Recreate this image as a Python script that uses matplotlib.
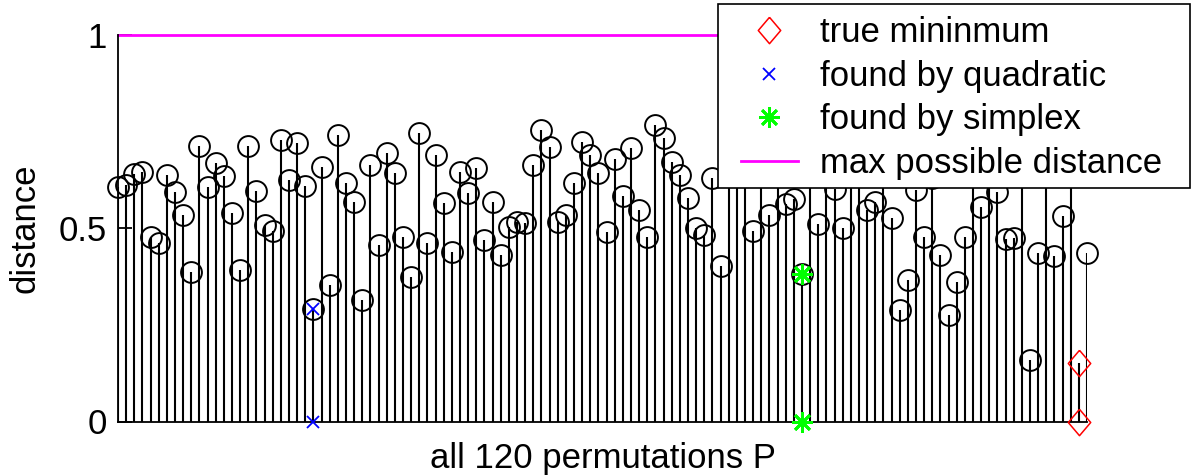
import numpy as np
import matplotlib
matplotlib.use("Agg")
import matplotlib.pyplot as plt
from matplotlib.patches import Rectangle

# distance of each of the 120 permutations (stems 77, 78, 80, ... sit under the legend)
distance = [
    0.607, 0.610, 0.640, 0.645, 0.478, 0.460, 0.637, 0.594, 0.534, 0.387,
    0.712, 0.607, 0.667, 0.634, 0.538, 0.391, 0.712, 0.596, 0.508, 0.492,
    0.727, 0.624, 0.719, 0.609, 0.290, 0.658, 0.353, 0.740, 0.615, 0.568,
    0.314, 0.663, 0.456, 0.693, 0.641, 0.478, 0.374, 0.745, 0.462, 0.689,
    0.564, 0.437, 0.645, 0.590, 0.654, 0.469, 0.568, 0.430, 0.503, 0.516,
    0.512, 0.663, 0.753, 0.710, 0.516, 0.534, 0.615, 0.723, 0.689, 0.641,
    0.490, 0.678, 0.583, 0.706, 0.547, 0.478, 0.766, 0.732, 0.671, 0.637,
    0.577, 0.499, 0.482, 0.628, 0.402, 0.697, 0.720, 0.660, 0.493, 0.700,
    0.534, 0.640, 0.562, 0.574, 0.381, 0.680, 0.510, 0.740, 0.600, 0.499,
    0.650, 0.710, 0.546, 0.568, 0.670, 0.527, 0.288, 0.366, 0.598, 0.478,
    0.630, 0.430, 0.275, 0.361, 0.478, 0.690, 0.555, 0.730, 0.592, 0.471,
    0.473, 0.660, 0.159, 0.435, 0.700, 0.428, 0.532, 0.640, 0.150, 0.435,
]
true_min = 119      # index of the true minimum
quad_pick = 25      # index found by quadratic
simplex_pick = 85   # index found by simplex
max_dist = 1.0

legend_labels = ["true mininmum", "found by quadratic", "found by simplex",
                 "max possible distance"]

FS = 25
plt.rcParams["font.family"] = ["Liberation Sans", "DejaVu Sans"]
plt.rcParams["font.size"] = FS

W, H = 1192, 476
fig = plt.figure(figsize=(W / 100, H / 100), dpi=100)
ax = fig.add_axes([118 / W, (H - 421.5) / H, 969 / W, 387 / H])

perm = np.arange(1, len(distance) + 1)
d = np.asarray(distance)

ax.vlines(perm, 0, d, color="k", lw=1.5, zorder=2)
keep = perm != true_min
ax.plot(perm[keep], d[keep], "o", ms=15, mfc="none", mec="k", mew=1.4,
        zorder=3, clip_on=False)

diamond = [(0, 1), (0.85, 0), (0, -1), (-0.85, 0), (0, 1)]
i_min, i_q, i_s = true_min - 1, quad_pick - 1, simplex_pick - 1
h_min, = ax.plot([perm[i_min]] * 2, [d[i_min], 0], ls="none", marker=diamond, ms=19,
                 mfc="none", mec="red", mew=1.1, zorder=4, clip_on=False)
h_q, = ax.plot([perm[i_q]] * 2, [d[i_q], 0], ls="none", marker="x", ms=9,
               color="blue", mew=1.3, zorder=4, clip_on=False)
h_s, = ax.plot([perm[i_s]] * 2, [d[i_s], 0], ls="none", marker=(8, 2, 0), ms=15,
               color=(0, 1, 0), mew=2.0, zorder=4, clip_on=False)
h_max, = ax.plot(perm[[0, -1]], [max_dist, max_dist], color="magenta", lw=2.0,
                 zorder=2, clip_on=False)

ax.set_xlim(perm[0], perm[-1])
ax.set_ylim(0, 1)
ax.spines["top"].set_visible(False)
ax.spines["right"].set_visible(False)
for s in ("left", "bottom"):
    ax.spines[s].set_linewidth(1.3)
ax.set_xticks([])
ax.set_yticks([0, 0.5, 1])
ax.set_yticklabels(["0", "0.5", "1"])
ax.tick_params(axis="y", direction="in", length=10, width=1.3, pad=8, labelsize=FS)

ax.set_xlabel("all 120 permutations P", fontsize=FS, labelpad=15)
ax.set_ylabel("distance", fontsize=FS, labelpad=12)

# legend box: white frame drawn separately so side and top padding can differ
box = Rectangle((718 / W, (H - 188) / H), 472 / W, 184 / H, transform=fig.transFigure,
                facecolor="white", edgecolor="k", lw=1.2, zorder=5)
fig.patches.append(box)
leg = fig.legend([h_min, h_q, h_s, h_max], legend_labels, loc="upper left",
                 bbox_to_anchor=(728 / W, (H - 4) / H), frameon=False,
                 fontsize=FS, handlelength=1.67, handletextpad=0.63, borderpad=0.36,
                 labelspacing=0.30, borderaxespad=0, numpoints=1)
leg.set_zorder(6)

fig.savefig("out.png", dpi=100)
